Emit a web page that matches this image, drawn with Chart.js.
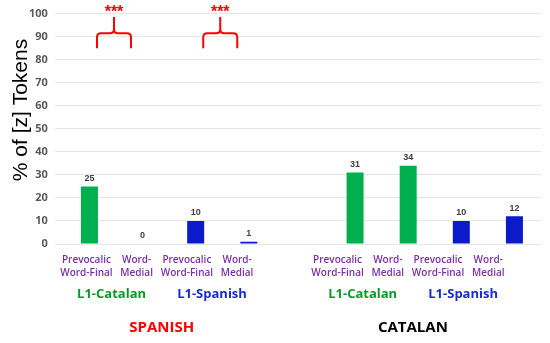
<!DOCTYPE html>
<html>
<head>
<meta charset="utf-8">
<script src="https://cdn.jsdelivr.net/npm/chart.js@4"></script>
<style>
  html, body { margin: 0; padding: 0; background: #fff; }
  #wrap { width: 550px; height: 343px; }
</style>
</head>
<body>
<div id="wrap"><canvas id="grafico"></canvas></div>
<script>
// categorias (uma vaga vazia separa as duas línguas)
const categorias = [
    ['Prevocalic', 'Word-Final'], ['Word-', 'Medial'],
    ['Prevocalic', 'Word-Final'], ['Word-', 'Medial'],
    '',
    ['Prevocalic', 'Word-Final'], ['Word-', 'Medial'],
    ['Prevocalic', 'Word-Final'], ['Word-', 'Medial']
];
const l1Catalan = [25, 0, null, null, null, 31, 34, null, null];
const l1Spanish = [null, null, 10, 1, null, null, null, 10, 12];
const grupos = ['L1-Catalan', 'L1-Spanish', 'L1-Catalan', 'L1-Spanish'];
const linguas = ['SPANISH', 'CATALAN'];
const significancia = ['***', '***'];
const yTicks = [0, 10, 20, 30, 40, 50, 60, 70, 80, 90, 100];

const VERDE = '#00B04F';
const AZUL = '#0B1BCB';
const ROXO = '#7A2FA6';

const desenhos = {
    id: 'desenhos',
    afterDraw(chart) {
        const ctx = chart.ctx;
        const x = chart.scales.x;
        const y = chart.scales.y;
        ctx.save();

        // valores acima das barras
        ctx.font = 'bold 9px "Liberation Sans", Arial';
        ctx.fillStyle = '#404040';
        ctx.textAlign = 'center';
        ctx.textBaseline = 'middle';
        chart.data.datasets.forEach(ds => {
            ds.data.forEach((v, i) => {
                if (v === null) return;
                ctx.fillText(String(v), x.getPixelForValue(i), y.getPixelForValue(v) - 8);
            });
        });

        // rótulos das categorias (um pouco mais juntos que as barras)
        const labelX = i => x.getPixelForValue(i) - 3 - 2.9 * i;
        ctx.font = '600 10px "Open Sans", Arial';
        ctx.fillStyle = ROXO;
        categorias.forEach((c, i) => {
            if (!Array.isArray(c)) return;
            ctx.fillText(c[0], labelX(i), 260);
            ctx.fillText(c[1], labelX(i), 273);
        });

        // grupos L1
        const pares = [[0, 1], [2, 3], [5, 6], [7, 8]];
        ctx.font = 'bold 13px "Open Sans", Arial';
        grupos.forEach((g, k) => {
            ctx.fillStyle = g === 'L1-Catalan' ? '#0A9A2A' : '#1A2BD0';
            const cx = (labelX(pares[k][0]) + labelX(pares[k][1])) / 2;
            ctx.fillText(g, cx, 294);
        });

        // línguas
        ctx.font = 'bold 15px "Open Sans", Arial';
        linguas.forEach((l, k) => {
            ctx.fillStyle = k === 0 ? '#FF0000' : '#000000';
            const cx = (labelX(pares[2 * k][0]) + labelX(pares[2 * k + 1][1])) / 2;
            ctx.fillText(l, cx, 328);
        });

        // chaves de significância
        ctx.strokeStyle = '#FF0000';
        ctx.lineWidth = 2;
        significancia.forEach((s, k) => {
            const cx = (x.getPixelForValue(2 * k) + x.getPixelForValue(2 * k + 1)) / 2 - 2;
            const x0 = cx - 17, x1 = cx + 17;
            const yTop = y.getPixelForValue(98.5);
            const yMid = y.getPixelForValue(91.5);
            const yEnd = y.getPixelForValue(85);
            const r = 4;
            ctx.beginPath();
            ctx.moveTo(x0, yEnd);
            ctx.lineTo(x0, yMid + r);
            ctx.quadraticCurveTo(x0, yMid, x0 + r, yMid);
            ctx.lineTo(cx - r, yMid);
            ctx.quadraticCurveTo(cx, yMid, cx, yMid - r);
            ctx.lineTo(cx, yTop);
            ctx.moveTo(cx, yMid - r);
            ctx.quadraticCurveTo(cx, yMid, cx + r, yMid);
            ctx.lineTo(x1 - r, yMid);
            ctx.quadraticCurveTo(x1, yMid, x1, yMid + r);
            ctx.lineTo(x1, yEnd);
            ctx.stroke();
            ctx.fillStyle = '#FF0000';
            ctx.font = 'bold 16px "Liberation Sans", Arial';
            ctx.fillText(s, cx, y.getPixelForValue(100) - 1);
        });

        // título do eixo y
        ctx.translate(21, 110);
        ctx.rotate(-Math.PI / 2);
        ctx.fillStyle = '#000';
        ctx.font = '21px "Liberation Sans", Arial';
        ctx.fillText('% of [z] Tokens', 0, 0);
        ctx.restore();
    }
};

new Chart(document.getElementById('grafico'), {
    type: 'bar',
    data: {
        labels: categorias,
        datasets: [
            { label: 'L1-Catalan', data: l1Catalan, backgroundColor: VERDE },
            { label: 'L1-Spanish', data: l1Spanish, backgroundColor: AZUL }
        ]
    },
    options: {
        responsive: true,
        maintainAspectRatio: false,
        animation: false,
        grouped: false,
        barPercentage: 1,
        categoryPercentage: 0.32,
        layout: { padding: { top: 8, bottom: 91, left: 22, right: 9 } },
        plugins: { legend: { display: false }, tooltip: { enabled: false } },
        scales: {
            x: {
                grid: { display: false },
                border: { display: false },
                ticks: { display: false }
            },
            y: {
                min: 0,
                max: 100,
                afterBuildTicks: axis => { axis.ticks = yTicks.map(v => ({ value: v })); },
                grid: { color: '#E6E6E6' },
                border: { display: false },
                ticks: {
                    color: '#595959',
                    font: { family: '"Open Sans", Arial', size: 11, weight: 'bold' },
                    padding: 7
                }
            }
        }
    },
    plugins: [desenhos]
});
</script>
</body>
</html>
